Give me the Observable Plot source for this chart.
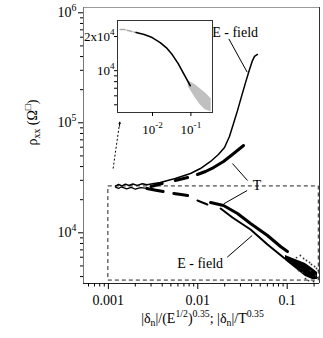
<!DOCTYPE html>
<html><head><meta charset="utf-8">
<script src="https://cdn.jsdelivr.net/npm/d3@7"></script>
<script src="https://cdn.jsdelivr.net/npm/@observablehq/plot@0.6"></script>
<style>
body{margin:0;background:#fff;}
#wrap{position:relative;width:323px;height:338px;overflow:hidden;background:#fff;}
#wrap svg{position:absolute;}
#wrap svg, #wrap svg text{font-family:"Liberation Serif","Times New Roman",Times,serif !important;}
</style></head><body><div id="wrap"></div>
<script>
// ---------- main chart data ----------
const xDomain = [5.27e-4, 0.2298];
const yDomain = [3461, 1.117e6];
const xMajor = [0.001, 0.01, 0.1];
const xMajorLabels = ["0.001", "0.01", "0.1"];
const xMinor = [6e-4,7e-4,8e-4,9e-4,0.002,0.003,0.004,0.005,0.006,0.007,0.008,0.009,0.02,0.03,0.04,0.05,0.06,0.07,0.08,0.09,0.2];
const yMajor = [1e4, 1e5, 1e6];
const yMajorLabels = ["10^{4}", "10^{5}", "10^{6}"];
const yMinor = [4000,5000,6000,7000,8000,9000,20000,30000,40000,50000,60000,70000,80000,90000,200000,300000,400000,500000,600000,700000,800000,900000];

// E-field, upper branch
const eUpX = [0.00120,0.00130,0.00142,0.00155,0.00170,0.00188,0.00210,0.0024,0.0027,0.0038,0.0056,0.0083,0.0107,0.0139,0.0170,0.0199,0.0226,0.0251,0.0278,0.0308,0.0342,0.0379,0.0409,0.0431,0.0465];
const eUpY = [26600,27500,26700,27700,26900,27800,27000,27900,27300,28700,31200,34600,38400,44500,51500,59600,75100,98500,129000,173000,232000,305000,368000,401000,418000];
// T, upper branch
const tUpX = [0.0030,0.0040,0.0046,0.0056,0.0077,0.0086,0.0099,0.0122,0.0150,0.0194,0.0244,0.0325];
const tUpY = [26400,28100,null,29900,31800,null,33900,36100,39200,44500,51500,62200];
// T, lower branch: noisy start, then the main part
const tStartX = [0.0012,0.0013,0.0014,0.0016,0.0018,0.0020,0.0023,0.0027];
const tStartY = [26000,25300,26200,25100,25900,24900,25800,25300];
const tLowX = [0.0027,0.0034,0.0041,0.0047,0.0054,0.0065,0.0077,0.0100,0.0139,0.0194,0.0278,0.0389,0.0602,0.0842,0.1007];
const tLowY = [25300,24400,23700,null,22760,22300,21830,null,18860,17710,14980,12150,9450,7510,6760];
// E-field, lower branch
const eLowX = [0.0099,0.0128,0.0150,0.0180,0.0244,0.0389,0.0602,0.0909,0.1177,0.1406];
const eLowY = [19670,18080,null,16630,13780,10710,7830,5960,5260,4840];
// dense end of the E-field lower branch
const coreX = [0.0957,0.1239,0.1602,0.1919,0.2183];
const coreLo = [5600,4740,4010,3760,3760];
const coreHi = [6220,5720,5260,4740,4360];
const cloudX = [0.1146,0.1271,0.1406,0.1524,0.1644,0.1778,0.187,0.2023,0.2128,0.2239,0.173,0.197,0.2183,0.1483,0.134,0.1824,0.2075,0.1602];
const cloudY = [5370,5960,6220,5840,5600,5370,5150,4940,4740,4540,3680,3610,3920,4360,4540,4540,4090,3840];

// dashed box, arrow, labels
const boxX = [0.001, 0.2256], boxY = [3680, 26400];
const arrowFrom = [0.00113, 38400], arrowTo = [0.00134, 101300];
const labelText = ["E - field", "T", "E - field"];
const labelX = [0.01449, 0.0413, 0.00588];
const labelY = [666000, 26900, 5226];
const leadX1 = [0.02222, 0.0244, 0.0357, 0.02133];
const leadY1 = [580000, 42660, 24240, 6000];
const leadX2 = [0.0357, 0.0360, 0.01954, 0.0406];
const leadY2 = [288400, 29880, 18350, 9450];
const xTitle = "|δ_{n}|/(E^{1/2})^{0.35}; |δ_{n}|/T^{0.35}";
const yTitle = "ρ_{xx} (Ω^{□})";

// ---------- inset data ----------
const inXDomain = [0.001226, 0.3652];
const inYDomain = [4276, 27700];
const inXMajor = [0.01, 0.1];
const inXLabels = ["10^{-2}", "10^{-1}"];
const inYMajor = [10000, 20000];
const inYLabels = ["10^{4}", "2x10^{4}"];
const inYMinor = [5000, 6000, 7000, 8000, 9000];
const inGrayX = [0.00144,0.00190,0.00233,0.0030,0.00376];
const inGrayY = [23060,23060,22590,22140,21690];
const inBlackX = [0.00376,0.00608,0.00982,0.01587,0.02275,0.0326,0.0467,0.0669,0.0959];
const inBlackY = [21690,20830,19590,17690,15980,13860,11530,9220,7370];
const inTailX = [0.0851,0.1294,0.1747,0.2357,0.338];
const inTailLo = [7220,5770,5000,4520,4340];
const inTailHi = [8160,7520,6930,6390,5650];

// ---------- helpers ----------
const idx = n => Array.from({length: n}, (_, i) => i);
const FONT = "Liberation Serif";

function rich(el) {
  const s = el.textContent;
  if (!/[\^_]\{/.test(s)) return;
  el.textContent = "";
  const re = /([\^_])\{([^}]*)\}|([^\^_]+)/g;
  let off = 0, m;
  while ((m = re.exec(s))) {
    const ts = document.createElementNS("http://www.w3.org/2000/svg", "tspan");
    let size = 1, target = 0, str;
    if (m[3] !== undefined) str = m[3];
    else { str = m[2]; size = 0.7; target = m[1] === "^" ? -0.42 : 0.22; }
    if (size !== 1) ts.style.fontSize = "0.7em";
    const delta = target - off;
    if (Math.abs(delta) > 1e-9) ts.setAttribute("dy", (delta / size).toFixed(3) + "em");
    off = target;
    ts.textContent = str;
    el.appendChild(ts);
  }
}
function richify(root) {
  root.querySelectorAll("text").forEach(t => {
    const tspans = t.querySelectorAll("tspan");
    if (tspans.length) tspans.forEach(rich); else rich(t);
  });
}

const wrap = document.getElementById("wrap");

// ---------- main plot ----------
const main = Plot.plot({
  width: 323, height: 338,
  marginLeft: 83, marginRight: 4, marginTop: 7, marginBottom: 55,
  x: {type: "log", domain: xDomain, axis: null},
  y: {type: "log", domain: yDomain, axis: null},
  style: {"font-family": FONT, "font-size": "14px", "color": "black", "background": "white", "overflow": "visible"},
  marks: [
    Plot.rect([0], {x1: boxX[0], x2: boxX[1], y1: boxY[0], y2: boxY[1], fill: "none", stroke: "#222", strokeWidth: 1, strokeDasharray: "4,3"}),
    Plot.ruleY([yDomain[1]], {stroke: "#999"}),
    Plot.ruleX([xDomain[1]], {stroke: "#333"}),
    Plot.ruleX([xDomain[0]], {stroke: "#777"}),
    Plot.ruleY([yDomain[0]], {stroke: "#222"}),
    Plot.axisY({ticks: yMajor, anchor: "left", tickSize: 5, tickPadding: 2, tickFormat: d => yMajorLabels[yMajor.indexOf(d)], fontSize: 14, fontFamily: FONT}),
    Plot.axisY({ticks: yMinor, anchor: "left", tickSize: 3, tickFormat: () => ""}),
    Plot.axisX({ticks: xMajor, anchor: "bottom", tickSize: 6, tickPadding: 6, tickFormat: d => xMajorLabels[xMajor.indexOf(d)], fontSize: 14, fontFamily: FONT}),
    Plot.axisX({ticks: xMinor, anchor: "bottom", tickSize: 3.5, tickFormat: () => ""}),
    Plot.areaY(idx(coreX.length), {x: coreX, y1: coreLo, y2: coreHi, fill: "black"}),
    Plot.dot(idx(cloudX.length), {x: cloudX, y: cloudY, r: 0.9, fill: "#333"}),
    Plot.line(idx(eUpX.length), {x: eUpX, y: eUpY, stroke: "black", strokeWidth: 1.5}),
    Plot.line(idx(tUpX.length), {x: tUpX, y: tUpY, stroke: "black", strokeWidth: 3}),
    Plot.line(idx(tStartX.length), {x: tStartX, y: tStartY, stroke: "black", strokeWidth: 1.3}),
    Plot.line(idx(tLowX.length), {x: tLowX, y: tLowY, stroke: "black", strokeWidth: 3}),
    Plot.line(idx(eLowX.length), {x: eLowX, y: eLowY, stroke: "black", strokeWidth: 2}),
    Plot.link(idx(leadX1.length), {x1: leadX1, y1: leadY1, x2: leadX2, y2: leadY2, stroke: "black", strokeWidth: 1}),
    Plot.link([0], {x1: arrowFrom[0], y1: arrowFrom[1], x2: arrowTo[0], y2: arrowTo[1], stroke: "black", strokeWidth: 1, strokeDasharray: "2,2"}),
    Plot.arrow([0], {x1: arrowTo[0] * 0.995, y1: arrowTo[1] * 0.92, x2: arrowTo[0], y2: arrowTo[1], stroke: "black", strokeWidth: 1, headLength: 6}),
    Plot.text(idx(labelText.length), {x: labelX, y: labelY, text: labelText, textAnchor: "start", fontSize: 14, fontFamily: FONT, fill: "black"}),
    Plot.text([xTitle], {frameAnchor: "bottom", dy: 39, dx: 1, fontSize: 14, fontFamily: FONT, fill: "black"}),
    Plot.text([yTitle], {frameAnchor: "left", dx: -51, rotate: -90, fontSize: 14, fontFamily: FONT, fill: "black"})
  ]
});
main.style.left = "0px"; main.style.top = "0px";
wrap.append(main);

// ---------- inset ----------
const inset = Plot.plot({
  width: 140, height: 126,
  marginLeft: 37, marginRight: 8, marginTop: 10, marginBottom: 24,
  x: {type: "log", domain: inXDomain, axis: null},
  y: {type: "log", domain: inYDomain, axis: null},
  style: {"font-family": FONT, "font-size": "13px", "color": "black", "background": "transparent", "overflow": "visible"},
  marks: [
    Plot.frame({fill: "white", stroke: "#333"}),
    Plot.axisY({ticks: inYMajor, anchor: "left", tickSize: 3, tickPadding: 0, tickFormat: d => inYLabels[inYMajor.indexOf(d)], fontSize: 13, fontFamily: FONT}),
    Plot.axisY({ticks: inYMinor, anchor: "left", tickSize: 3, tickFormat: () => ""}),
    Plot.axisX({ticks: inXMajor, anchor: "bottom", tickSize: 4, tickPadding: 8, tickFormat: d => inXLabels[inXMajor.indexOf(d)], fontSize: 13, fontFamily: FONT}),
    Plot.areaY(idx(inTailX.length), {x: inTailX, y1: inTailLo, y2: inTailHi, fill: "#c0c0c0"}),
    Plot.line(idx(inGrayX.length), {x: inGrayX, y: inGrayY, stroke: "#aaa", strokeWidth: 1.5, strokeDasharray: "5,2"}),
    Plot.line(idx(inBlackX.length), {x: inBlackX, y: inBlackY, stroke: "black", strokeWidth: 1.6})
  ]
});
inset.style.left = "80px"; inset.style.top = "10px";
wrap.append(inset);

richify(wrap);
</script>
</body></html>
